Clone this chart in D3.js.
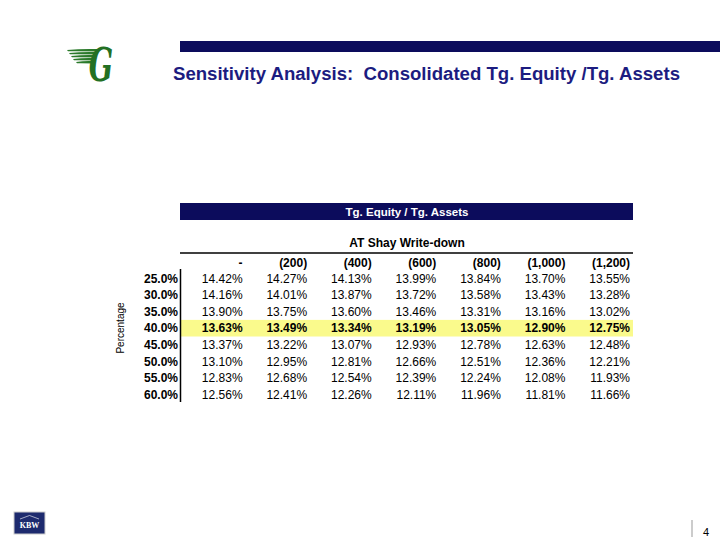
<!DOCTYPE html>
<html><head><meta charset="utf-8">
<script src="https://cdn.jsdelivr.net/npm/d3@7"></script>
<style>html,body{margin:0;padding:0;background:#fff;}svg{display:block;}</style>
</head><body>
<script>
const title = "Sensitivity Analysis:  Consolidated Tg. Equity /Tg. Assets";
const tableTitle = "Tg. Equity / Tg. Assets";
const colGroupLabel = "AT Shay Write-down";
const rowAxisLabel = "Percentage";
const writedowns = ["-", "(200)", "(400)", "(600)", "(800)", "(1,000)", "(1,200)"];
const percentages = ["25.0%", "30.0%", "35.0%", "40.0%", "45.0%", "50.0%", "55.0%", "60.0%"];
const row25 = [14.42, 14.27, 14.13, 13.99, 13.84, 13.70, 13.55];
const row30 = [14.16, 14.01, 13.87, 13.72, 13.58, 13.43, 13.28];
const row35 = [13.90, 13.75, 13.60, 13.46, 13.31, 13.16, 13.02];
const row40 = [13.63, 13.49, 13.34, 13.19, 13.05, 12.90, 12.75];
const row45 = [13.37, 13.22, 13.07, 12.93, 12.78, 12.63, 12.48];
const row50 = [13.10, 12.95, 12.81, 12.66, 12.51, 12.36, 12.21];
const row55 = [12.83, 12.68, 12.54, 12.39, 12.24, 12.08, 11.93];
const row60 = [12.56, 12.41, 12.26, 12.11, 11.96, 11.81, 11.66];
const values = [row25, row30, row35, row40, row45, row50, row55, row60];
const highlightRow = "40.0%";
const pageNumber = "4";

const W = 720, H = 540;
const font = "'Liberation Sans', Arial, Helvetica, sans-serif";
const svg = d3.select("body").append("svg").attr("width", W).attr("height", H)
  .style("font-family", font);

// top navy bar
svg.append("rect").attr("x", 180).attr("y", 41).attr("width", 540).attr("height", 11).attr("fill", "#0c0c5c");
svg.append("text").attr("x", 173).attr("y", 80).attr("text-anchor", "start")
  .attr("font-size", 17.5).attr("font-weight", "bold").attr("fill", "#1c1c80")
  .attr("textLength", 507).attr("lengthAdjust", "spacingAndGlyphs")
  .style("white-space", "pre").text(title);

// logo (stylized winged G)
const logo = svg.append("g");
[[67,50,30],[69,53,27],[71,56,24],[73,59,21],[76,62,17]].forEach(([x0,yy,w]) => {
  logo.append("path").attr("d", `M${x0},${yy} Q${x0+w/2},${yy-1.5} ${x0+w},${yy-1} L${x0+w},${yy+1.6} Q${x0+w/2},${yy+1} ${x0+1},${yy+1.2} Z`)
    .attr("fill", "#2b7a2b");
});
logo.append("text").attr("x", 101).attr("y", 81).attr("text-anchor", "middle")
  .attr("font-family", "'DejaVu Serif', serif").attr("font-style", "italic")
  .attr("font-weight", "bold").attr("font-size", 46).attr("fill", "#237023")
  .attr("transform", "translate(101,81) scale(0.62,1) translate(-101,-81)").text("G");

// table geometry
const x = d3.scaleBand().domain(writedowns).range([181, 633]);
const y = d3.scaleBand().domain(percentages).range([270, 403]);

svg.append("rect").attr("x", 180).attr("y", 203).attr("width", 453).attr("height", 17).attr("fill", "#0c0c5c");
svg.append("text").attr("x", 407).attr("y", 216).attr("text-anchor", "middle").attr("font-size", 11.5)
  .attr("font-weight", "bold").attr("fill", "#fff").text(tableTitle);

svg.append("text").attr("x", 407).attr("y", 247).attr("text-anchor", "middle").attr("font-size", 12)
  .attr("font-weight", "bold").attr("fill", "#000").text(colGroupLabel);
svg.append("line").attr("x1", 180).attr("x2", 633).attr("y1", 253).attr("y2", 253).attr("stroke", "#000").attr("stroke-width", 1.5);

svg.append("g").selectAll("text").data(writedowns).join("text")
  .attr("x", d => x(d) + x.bandwidth() - 3).attr("y", 267).attr("text-anchor", "end")
  .attr("font-size", 12).attr("font-weight", "bold").text(d => d);

// highlight
svg.append("rect").attr("x", 181).attr("y", y(highlightRow)).attr("width", 452).attr("height", y.bandwidth())
  .attr("fill", "#fafa8c");

// row labels
svg.append("g").selectAll("text").data(percentages).join("text")
  .attr("x", 178).attr("y", d => y(d) + y.bandwidth() / 2 + 4.3).attr("text-anchor", "end")
  .attr("font-size", 12).attr("font-weight", "bold").text(d => d);

svg.append("line").attr("x1", 180.5).attr("x2", 180.5).attr("y1", 269).attr("y2", 402).attr("stroke", "#000").attr("stroke-width", 1.5);

// cells
const rowsG = svg.append("g").selectAll("g").data(values).join("g")
  .attr("transform", (d, i) => `translate(0,${y(percentages[i]) + y.bandwidth() / 2 + 4.3})`);
rowsG.each(function(rowVals, i) {
  d3.select(this).selectAll("text").data(rowVals).join("text")
    .attr("x", (d, j) => x(writedowns[j]) + x.bandwidth() - 3)
    .attr("text-anchor", "end").attr("font-size", 12)
    .attr("font-weight", percentages[i] === highlightRow ? "bold" : "normal")
    .text(d => d.toFixed(2) + "%");
});

// row axis label
svg.append("text").attr("transform", `translate(124,328) rotate(-90)`).attr("text-anchor", "middle")
  .attr("font-size", 10).text(rowAxisLabel);

// KBW logo
svg.append("rect").attr("x", 14).attr("y", 512).attr("width", 31).attr("height", 22).attr("fill", "#1d2a6e").attr("stroke", "#ccc").attr("stroke-width", 1);
svg.append("path").attr("d", "M20,519 L29.5,515.5 L39,519").attr("fill", "none").attr("stroke", "#fff").attr("stroke-width", 0.6);
svg.append("text").attr("x", 29.5).attr("y", 528).attr("text-anchor", "middle").attr("font-family", "'Liberation Serif', serif")
  .attr("font-size", 8).attr("font-weight", "bold").attr("fill", "#fff").text("KBW");

// page number
svg.append("line").attr("x1", 692).attr("x2", 692).attr("y1", 520).attr("y2", 537).attr("stroke", "#999").attr("stroke-width", 1);
svg.append("text").attr("x", 706).attr("y", 536).attr("font-size", 11).attr("text-anchor", "middle").text(pageNumber);
</script>
</body></html>
